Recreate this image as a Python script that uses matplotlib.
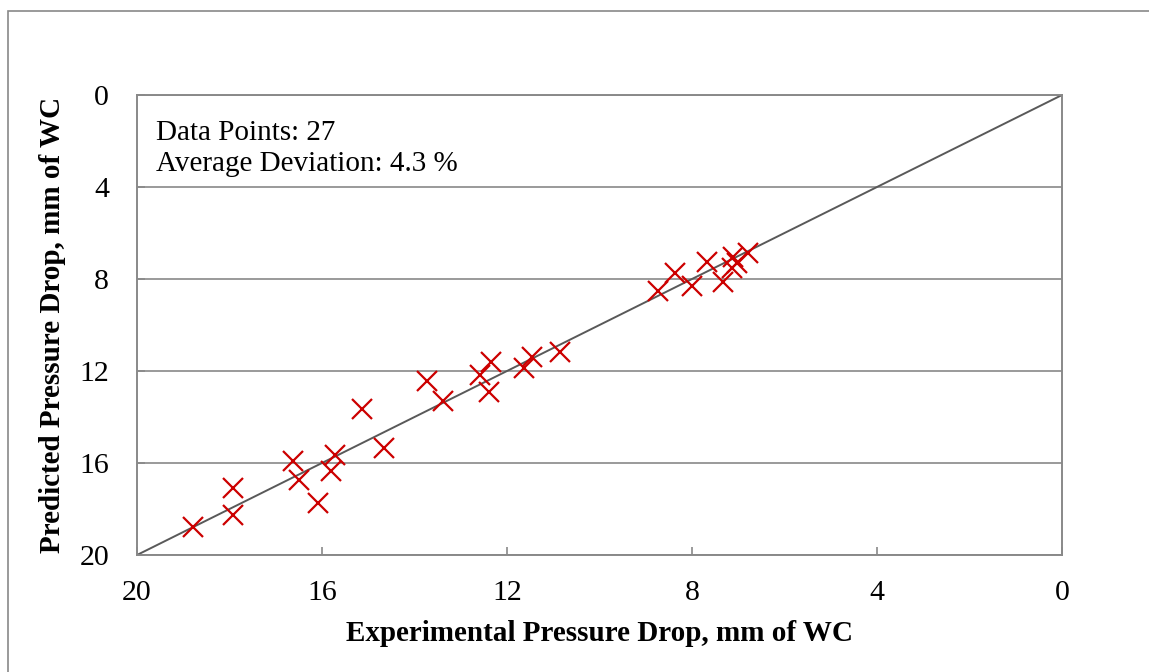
import matplotlib.pyplot as plt
from matplotlib.patches import Rectangle

plt.rcParams['font.family'] = ['Liberation Serif', 'DejaVu Serif']

# experimental vs predicted pressure drop, mm of WC
experimental = [18.80, 17.93, 17.92, 16.62, 16.50, 16.08, 15.81, 15.72, 15.13, 14.67,
                13.72, 13.38, 12.39, 12.58, 12.35, 11.63, 11.45, 10.85,
                8.74, 8.37, 8.01, 7.67, 7.34, 7.11, 7.14, 7.03, 6.78]
predicted = [18.77, 18.26, 17.10, 15.90, 16.74, 17.75, 16.33, 15.65, 13.65, 15.36,
             12.45, 13.29, 12.92, 12.17, 11.59, 11.88, 11.38, 11.16,
             8.52, 7.75, 8.29, 7.25, 8.12, 7.03, 7.54, 7.32, 6.85]

parity = [20, 0]
ticks = [20, 16, 12, 8, 4, 0]
grey = '#898989'

fig = plt.figure(figsize=(11.49, 6.72), dpi=100)
fig.patches.append(Rectangle((8 / 1149, -0.1), 1.2, (672 - 11) / 672 + 0.1,
                             transform=fig.transFigure, fill=False,
                             edgecolor=grey, linewidth=1.2))
ax = fig.add_axes([137 / 1149, (672 - 555) / 672, 925 / 1149, 460 / 672])

ax.plot(parity, parity, color='#595959', linewidth=1.4, zorder=2)
ax.plot(experimental, predicted, linestyle='none', marker='x', markersize=14,
        markeredgewidth=1.6, color='#CC0000', zorder=3)

ax.set_xlim(20, 0)
ax.set_ylim(20, 0)
ax.set_xticks(ticks)
ax.set_yticks(ticks)
ax.tick_params(direction='in', length=6, width=1.2, color=grey, labelsize=21.5)
ax.tick_params(axis='x', pad=18)
ax.tick_params(axis='y', pad=20)
ax.yaxis.grid(True, color=grey, linewidth=1.2)
ax.set_axisbelow(True)
for s in ax.spines.values():
    s.set_color(grey)
    s.set_linewidth(1.4)

ax.set_xlabel('Experimental Pressure Drop, mm of WC', fontsize=21, fontweight='bold', labelpad=10)
ax.set_ylabel('Predicted Pressure Drop, mm of WC', fontsize=21, fontweight='bold', labelpad=10)

ax.text(0.021, 0.945, 'Data Points: 27\nAverage Deviation: 4.3 %', transform=ax.transAxes,
        fontsize=21, va='top', ha='left', linespacing=1.25,
        bbox=dict(facecolor='white', edgecolor='none', pad=2))

fig.savefig('out.png', dpi=100)
